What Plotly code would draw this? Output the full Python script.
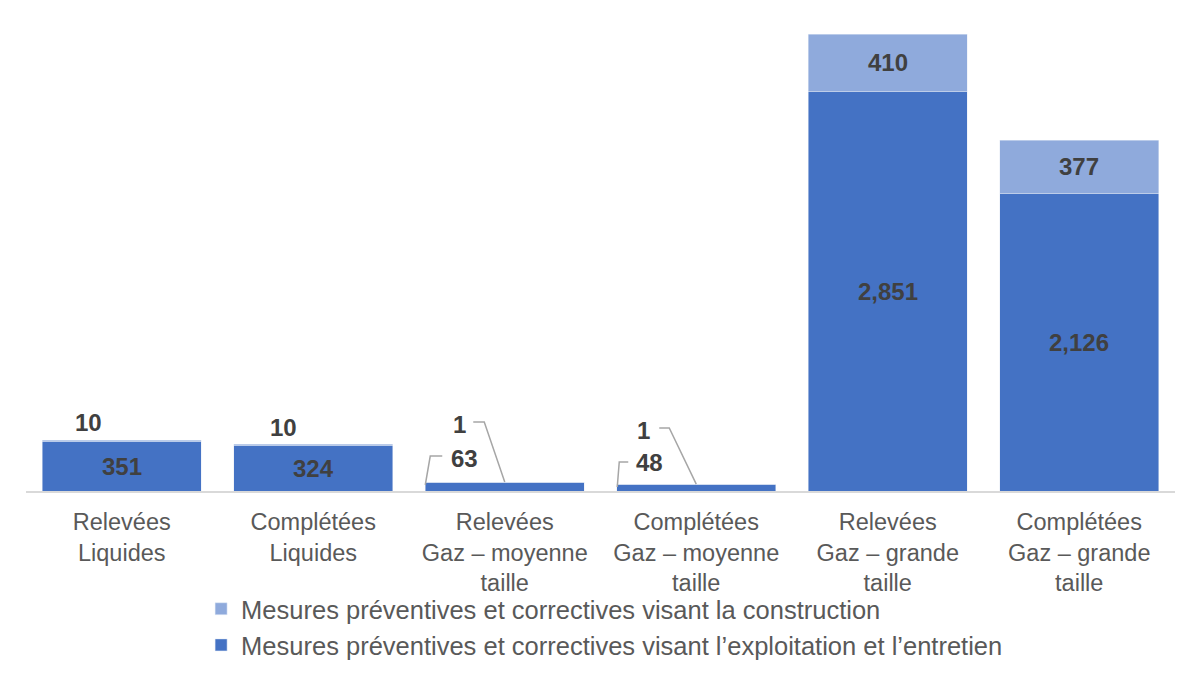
import plotly.graph_objects as go

categories = [
    "Relevées<br>Liquides",
    "Complétées<br>Liquides",
    "Relevées<br>Gaz – moyenne<br>taille",
    "Complétées<br>Gaz – moyenne<br>taille",
    "Relevées<br>Gaz – grande<br>taille",
    "Complétées<br>Gaz – grande<br>taille",
]
exploitation = [351, 324, 63, 48, 2851, 2126]
construction = [10, 10, 1, 1, 410, 377]

name_exploitation = "Mesures préventives et correctives visant l’exploitation et l’entretien"
name_construction = "Mesures préventives et correctives visant la construction"

DARK = "#4472C4"
LIGHT = "#8FAADC"
LABEL = "#404040"
GREY = "#595959"
FONT = "Liberation Sans, Arial, sans-serif"

# page geometry, used to turn pixel offsets of callouts into axis units
W, H = 1200, 677
M_L, M_R, M_T, M_B = 18, 33, 12, 194
Y_MAX = 3361
px_x = (W - M_L - M_R) / len(categories)
px_y = (H - M_T - M_B) / Y_MAX


def dx(p):
    return p / px_x


def dy(p):
    return p / px_y


def fmt(v):
    return "{:,}".format(v)


# labels too small for their segment: (text offset from bar centre / baseline in px, leader points or None)
callouts = {
    ("c", 0): ((-33, 69), None),
    ("c", 1): ((-30, 64), None),
    ("e", 2): ((-40, 33), [(-79.5, 6), (-74.5, 35), (-62.5, 35)]),
    ("c", 2): ((-45, 67), [(-31.5, 69), (-20.5, 69), (0, None)]),
    ("e", 3): ((-47, 29), [(-79, 4), (-77, 29), (-68, 29)]),
    ("c", 3): ((-53, 61), [(-37, 63), (-27, 63), (0, None)]),
}

x = list(range(len(categories)))

fig = go.Figure()
fig.add_trace(go.Bar(x=x, y=exploitation, name=name_exploitation, marker_color=DARK,
                     legendgroup="e", legendrank=2, hoverinfo="skip"))
fig.add_trace(go.Bar(x=x, y=construction, name=name_construction, marker_color=LIGHT,
                     legendgroup="c", legendrank=1, hoverinfo="skip"))

annotations = []
for i in x:
    top = exploitation[i] + construction[i]
    for key, base, val in (("e", 0, exploitation[i]), ("c", exploitation[i], construction[i])):
        if (key, i) in callouts:
            (tx, ty), leader = callouts[(key, i)]
            annotations.append(dict(x=i + dx(tx), y=dy(ty), text="<b>%s</b>" % fmt(val),
                                    xref="x", yref="y", showarrow=False,
                                    font=dict(family=FONT, size=24, color=LABEL)))
            if leader:
                lx = [i + dx(p[0]) for p in leader]
                ly = [top if p[1] is None else dy(p[1]) for p in leader]
                fig.add_trace(go.Scatter(x=lx, y=ly, mode="lines", showlegend=False,
                                         hoverinfo="skip",
                                         line=dict(color="#A6A6A6", width=1.5)))
        else:
            annotations.append(dict(x=i, y=base + val / 2, text="<b>%s</b>" % fmt(val),
                                    xref="x", yref="y", showarrow=False,
                                    font=dict(family=FONT, size=24, color=LABEL)))

fig.update_layout(
    width=W, height=H,
    barmode="stack",
    bargap=0.17,
    plot_bgcolor="white",
    paper_bgcolor="white",
    margin=dict(l=M_L, r=M_R, t=M_T, b=M_B, autoexpand=False),
    font=dict(family=FONT, size=24, color=GREY),
    annotations=annotations,
    showlegend=True,
    legend=dict(orientation="v", x=0.1524, y=-0.201, xanchor="left", yanchor="top",
                traceorder="grouped", tracegroupgap=0,
                font=dict(family=FONT, size=25.5, color=GREY),
                bgcolor="rgba(0,0,0,0)"),
    xaxis=dict(range=[-0.5, len(categories) - 0.5], tickvals=x, ticktext=categories,
               showline=True, linecolor="#D9D9D9", linewidth=1.5, showgrid=False,
               zeroline=False, ticks="", ticklabelstandoff=9,
               tickfont=dict(family=FONT, size=23.5, color=GREY), fixedrange=True),
    yaxis=dict(range=[0, Y_MAX], showgrid=False, zeroline=False, showticklabels=False,
               showline=False, fixedrange=True),
)

fig.write_html("out.html")
